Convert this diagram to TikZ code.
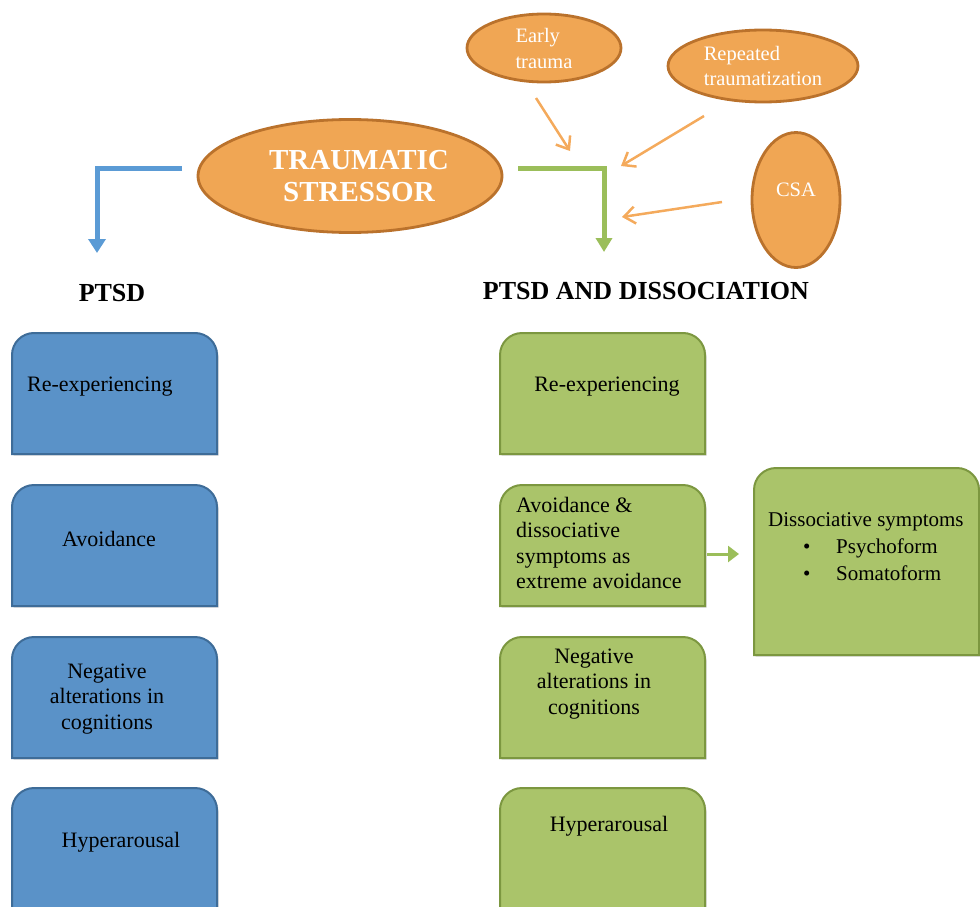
\documentclass[tikz,border=0pt]{standalone}
\usepackage{fontspec}
\setmainfont{Liberation Serif}
\usetikzlibrary{shapes.geometric,arrows.meta,backgrounds}
\definecolor{bfill}{RGB}{90,146,200}
\definecolor{bline}{RGB}{62,108,152}
\definecolor{gfill}{RGB}{170,196,106}
\definecolor{gline}{RGB}{124,151,64}
\definecolor{ofill}{RGB}{240,166,84}
\definecolor{oline}{RGB}{186,114,44}
\definecolor{barr}{RGB}{91,155,213}
\definecolor{garr}{RGB}{155,190,90}
\definecolor{oarr}{RGB}{244,170,92}
\newcommand\topround[2]{\path[#2] (#1.south west) -- ([yshift=-22pt]#1.north west) arc[start angle=180,end angle=90,radius=22pt] -- ([xshift=-22pt]#1.north east) arc[start angle=90,end angle=0,radius=22pt] -- (#1.south east) -- cycle;}
\tikzset{
  boxn/.style={rectangle, draw=none, minimum width=205pt, minimum height=121pt, anchor=north west, inner sep=0pt, outer sep=0pt},
  shadowed/.style={preaction={fill=black, fill opacity=0.18, draw=none, transform canvas={shift={(1.5pt,-1.5pt)}}}},
  bluebox/.style={shadowed, fill=bfill, draw=bline, line width=2pt},
  greenbox/.style={shadowed, fill=gfill, draw=gline, line width=2pt},
  txt/.style={font=\fontsize{22}{25.5}\selectfont, align=center, inner sep=0pt},
  dtxt/.style={font=\fontsize{21}{25.5}\selectfont, align=left, inner sep=0pt, anchor=west},
  head/.style={font=\fontsize{26}{30}\selectfont\bfseries, inner sep=0pt},
  ell/.style={ellipse, fill=ofill, draw=oline, line width=2.8pt, text=white, inner sep=0pt},
  barrow/.style={draw=barr, line width=5pt, -{Triangle[width=17pt,length=14pt]}},
  garrow/.style={draw=garr, line width=5pt, -{Triangle[width=16pt,length=14pt]}},
  oarrow/.style={draw=oarr, line width=2.5pt, -{Straight Barb[width=17pt,length=11pt]}},
  sarrow/.style={draw=garr, line width=3pt, -{Triangle[width=16pt,length=11pt]}}
}
\begin{document}
\begin{tikzpicture}[x=1pt,y=1pt]
\useasboundingbox (0,0) rectangle (980,-907);
% boxes
\node[boxn] (b1) at (12,-333) {};
\node[boxn] (b2) at (12,-485) {};
\node[boxn] (b3) at (12,-637) {};
\node[boxn, minimum height=125pt] (b4) at (12,-788) {};
\node[boxn] (g1) at (500,-333) {};
\node[boxn] (g2) at (500,-485) {};
\node[boxn] (g3) at (500,-637) {};
\node[boxn, minimum height=125pt] (g4) at (500,-788) {};
\node[boxn, minimum width=225pt, minimum height=187pt] (d) at (754,-468) {};
\begin{scope}[on background layer]
\topround{b1}{bluebox}
\topround{b2}{bluebox}
\topround{b3}{bluebox}
\topround{b4}{bluebox}
\topround{g1}{greenbox}
\topround{g2}{greenbox}
\topround{g3}{greenbox}
\topround{g4}{greenbox}
\topround{d}{greenbox}
\end{scope}
% box texts
\node[txt, anchor=west] (b1t) at (27,-387) {Re-experiencing};
\node[txt] (b2t) at (109,-539) {Avoidance};
\node[txt] (b3t) at (107,-699) {Negative\\alterations in\\cognitions};
\node[txt] (b4t) at (121,-842) {Hyperarousal};
\node[txt] (g1t) at (607,-387) {Re-experiencing};
\node[txt, align=left, anchor=west] (g2t) at (516,-543) {Avoidance \&\\dissociative\\symptoms as\\extreme avoidance};
\node[txt] (g3t) at (594,-684) {Negative\\alterations in\\cognitions};
\node[txt] (g4t) at (609,-826) {Hyperarousal};
\node[dtxt] (dt1) at (768,-522) {Dissociative symptoms};
\node[dtxt] (dt2) at (803,-548) {\makebox[33pt][l]{\textbullet}Psychoform};
\node[dtxt] (dt3) at (803,-573) {\makebox[33pt][l]{\textbullet}Somatoform};
% headings
\node[head] (h1) at (112,-293) {PTSD};
\node[head] (h2) at (646,-291) {PTSD AND DISSOCIATION};
% ellipses
\node[ell, minimum width=304pt, minimum height=113pt, align=center, font=\fontsize{29}{32}\selectfont\bfseries] (ts) at (350,-176) {\hspace*{18pt}TRAUMATIC\\\hspace*{18pt}STRESSOR};
\node[ell, minimum width=154pt, minimum height=68pt, align=left, font=\fontsize{20.5}{26}\selectfont] (et) at (544,-48) {Early\\trauma};
\node[ell, minimum width=190pt, minimum height=72pt, align=left, font=\fontsize{20.5}{25}\selectfont] (rt) at (763,-66) {Repeated\\traumatization};
\node[ell, minimum width=88pt, minimum height=135pt, font=\fontsize{20.5}{24}\selectfont] (csa) at (796,-200) {\raisebox{20pt}{CSA}};
% connectors
\coordinate (bs) at (182,-168);
\coordinate (be) at (97,-253);
\coordinate (gs) at (518,-168);
\coordinate (ge) at (604,-252);
\draw[barrow] (bs) -| (be);
\draw[garrow] (gs) -| (ge);
\coordinate (es) at (536,-98);
\coordinate (ee) at (570,-151);
\coordinate (rs) at (704,-116);
\coordinate (re) at (621,-166);
\coordinate (cs) at (722,-202);
\coordinate (ce) at (622,-217);
\draw[oarrow] (es) -- (ee);
\draw[oarrow] (rs) -- (re);
\draw[oarrow] (cs) -- (ce);
\coordinate (ss) at (707,-554);
\coordinate (se) at (739,-554);
\draw[sarrow] (ss) -- (se);
\end{tikzpicture}
\end{document}
